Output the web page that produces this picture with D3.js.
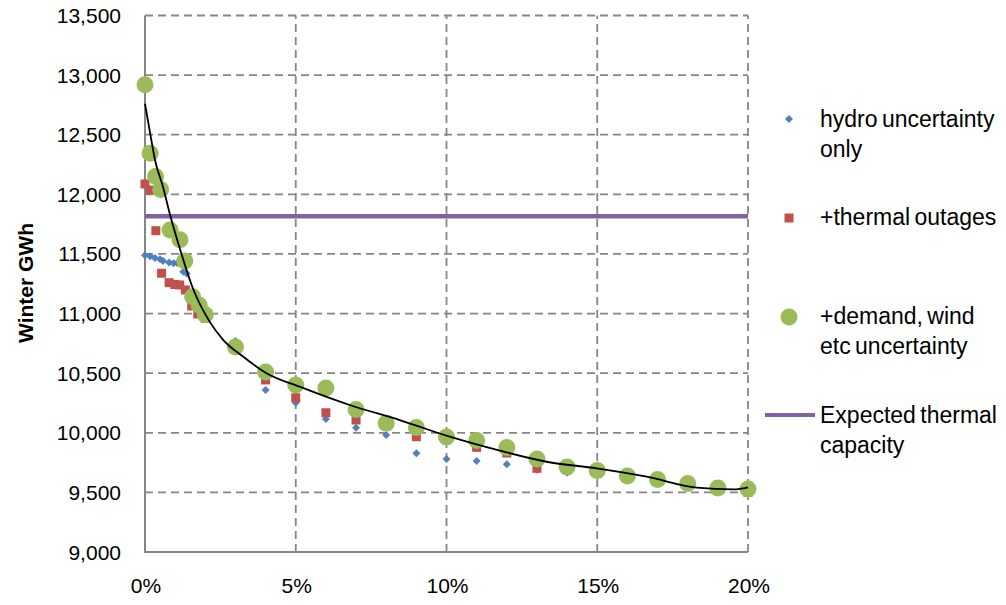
<!DOCTYPE html>
<html>
<head>
<meta charset="utf-8">
<script src="https://cdn.jsdelivr.net/npm/d3@7/dist/d3.min.js"></script>
<style>
  html, body { margin: 0; padding: 0; background: #fff; }
  svg { display: block; font-family: "Liberation Sans", Arial, sans-serif; }
</style>
</head>
<body>
<svg id="chart" width="1006" height="605"></svg>
<script>
// ---- data (x in %, y in Winter GWh) ----
const hydroX = [0, 0.17, 0.33, 0.5, 0.6, 0.8, 0.95, 1.07, 1.27, 1.38, 3, 4, 5, 6, 7, 8, 9, 10, 11, 12, 13, 14, 15, 16, 17, 18, 19, 20];
const hydroY = [11490, 11480, 11465, 11455, 11440, 11428, 11422, 11425, 11350, 11335, 10770, 10359, 10252, 10116, 10043, 9981, 9828, 9780, 9763, 9736, 9690, 9665, 9680, 9640, 9610, 9575, 9560, 9520];

const thermalX = [0, 0.17, 0.36, 0.55, 0.8, 0.99, 1.15, 1.34, 1.55, 1.75, 2, 3, 4, 5, 6, 7, 8, 9, 10, 11, 12, 13, 14, 15, 16, 17, 18, 19, 20];
const thermalY = [12087, 12036, 11695, 11338, 11259, 11244, 11240, 11198, 11063, 10996, 10960, 10740, 10443, 10294, 10168, 10107, 10070, 9967, 9940, 9878, 9830, 9702, 9690, 9660, 9640, 9620, 9575, 9560, 9500];

const demandX = [0, 0.17, 0.35, 0.52, 0.83, 1.16, 1.32, 1.58, 1.8, 2, 3, 4, 5, 6, 7, 8, 9, 10, 11, 12, 13, 14, 15, 16, 17, 18, 19, 20];
const demandY = [12920, 12345, 12150, 12040, 11700, 11620, 11440, 11140, 11070, 10990, 10720, 10510, 10400, 10375, 10195, 10080, 10045, 9965, 9935, 9877, 9780, 9713, 9684, 9637, 9608, 9575, 9537, 9528];

const trendX = [0, 0.2, 0.33, 0.6, 0.82, 1.15, 1.59, 2.15, 2.59, 3.25, 4.03, 5.13, 6.79, 8.45, 10.11, 11.77, 13.32, 14.98, 16.64, 18.3, 19.52, 20];
const trendY = [12760, 12470, 12290, 12060, 11840, 11550, 11210, 10930, 10780, 10640, 10500, 10387, 10233, 10107, 9967, 9850, 9757, 9702, 9632, 9540, 9526, 9543];

const thermalCapacity = 11816;

const yTicks = [9000, 9500, 10000, 10500, 11000, 11500, 12000, 12500, 13000, 13500];
const xTicks = [0, 5, 10, 15, 20];

const legendLabels = [
  ["hydro uncertainty", "only"],
  ["+thermal outages"],
  ["+demand, wind", "etc uncertainty"],
  ["Expected thermal", "capacity"]
];

// ---- chart ----
const svg = d3.select("#chart");
const x = d3.scaleLinear().domain([0, 20]).range([145, 748]);
const y = d3.scaleLinear().domain([9000, 13500]).range([552, 15.5]);

const gridColor = "#868686";

// horizontal gridlines
svg.append("g").selectAll("line").data(yTicks.filter(d => d > 9000)).join("line")
  .attr("x1", x(0)).attr("x2", x(20))
  .attr("y1", d => y(d)).attr("y2", d => y(d))
  .attr("stroke", gridColor).attr("stroke-width", 1.8).attr("stroke-dasharray", "8,5");

// vertical gridlines
svg.append("g").selectAll("line").data(xTicks.filter(d => d > 0)).join("line")
  .attr("x1", d => x(d)).attr("x2", d => x(d))
  .attr("y1", y(9000)).attr("y2", y(13500))
  .attr("stroke", gridColor).attr("stroke-width", 1.8).attr("stroke-dasharray", "8,5");

// axes lines
svg.append("line").attr("x1", x(0)).attr("x2", x(0)).attr("y1", y(13500)).attr("y2", y(9000) + 1)
  .attr("stroke", gridColor).attr("stroke-width", 2);
svg.append("line").attr("x1", x(0)).attr("x2", x(20)).attr("y1", y(9000)).attr("y2", y(9000))
  .attr("stroke", gridColor).attr("stroke-width", 2);

// y tick labels
svg.append("g").selectAll("text").data(yTicks).join("text")
  .attr("x", 121).attr("y", d => y(d) + 7.5)
  .attr("text-anchor", "end").attr("font-size", 21).attr("fill", "#000")
  .text(d3.format(","));

// x tick labels
svg.append("g").selectAll("text").data(xTicks).join("text")
  .attr("x", d => x(d) + 1).attr("y", 593)
  .attr("text-anchor", "middle").attr("font-size", 21).attr("fill", "#000")
  .text(d => d + "%");

// y title
svg.append("text")
  .attr("transform", "translate(33,283) rotate(-90)")
  .attr("text-anchor", "middle").attr("font-size", 21).attr("font-weight", "bold")
  .text("Winter GWh");

// expected thermal capacity line
svg.append("line").attr("x1", x(0)).attr("x2", x(20))
  .attr("y1", y(thermalCapacity)).attr("y2", y(thermalCapacity))
  .attr("stroke", "#8064A2").attr("stroke-width", 4.5);

const diamond = (cx, cy, r) => `M${cx},${cy - r}L${cx + r},${cy}L${cx},${cy + r}L${cx - r},${cy}Z`;

// hydro diamonds
svg.append("g").selectAll("path").data(d3.zip(hydroX, hydroY)).join("path")
  .attr("d", d => diamond(x(d[0]), y(d[1]), 4))
  .attr("fill", "#4F81BD");

// thermal squares
svg.append("g").selectAll("rect").data(d3.zip(thermalX, thermalY)).join("rect")
  .attr("x", d => x(d[0]) - 4.5).attr("y", d => y(d[1]) - 4.5)
  .attr("width", 9).attr("height", 9)
  .attr("fill", "#C0504D");

// demand circles
svg.append("g").selectAll("circle").data(d3.zip(demandX, demandY)).join("circle")
  .attr("cx", d => x(d[0])).attr("cy", d => y(d[1])).attr("r", 8.5)
  .attr("fill", "#9BBB59");

// trend line
svg.append("path")
  .datum(d3.zip(trendX, trendY))
  .attr("d", d3.line().x(d => x(d[0])).y(d => y(d[1])).curve(d3.curveMonotoneX))
  .attr("fill", "none").attr("stroke", "#000").attr("stroke-width", 1.8);

// legend
const lg = svg.append("g");
const lx = 789;
const baselines = [127, 225, 324, 423];
lg.append("path").attr("d", diamond(lx, 119, 4)).attr("fill", "#4F81BD");
lg.append("rect").attr("x", lx - 4.5).attr("y", 213.5).attr("width", 9).attr("height", 9).attr("fill", "#C0504D");
lg.append("circle").attr("cx", lx).attr("cy", 317).attr("r", 8.5).attr("fill", "#9BBB59");
lg.append("line").attr("x1", 765).attr("x2", 815).attr("y1", 415).attr("y2", 415)
  .attr("stroke", "#8064A2").attr("stroke-width", 4);

legendLabels.forEach((lines, i) => {
  const t = lg.append("text").attr("x", 820).attr("y", baselines[i])
    .attr("font-size", 23).attr("word-spacing", -2).attr("fill", "#000");
  lines.forEach((s, j) => {
    t.append("tspan").attr("x", 820).attr("dy", j === 0 ? 0 : 30).text(s);
  });
});
</script>
</body>
</html>
